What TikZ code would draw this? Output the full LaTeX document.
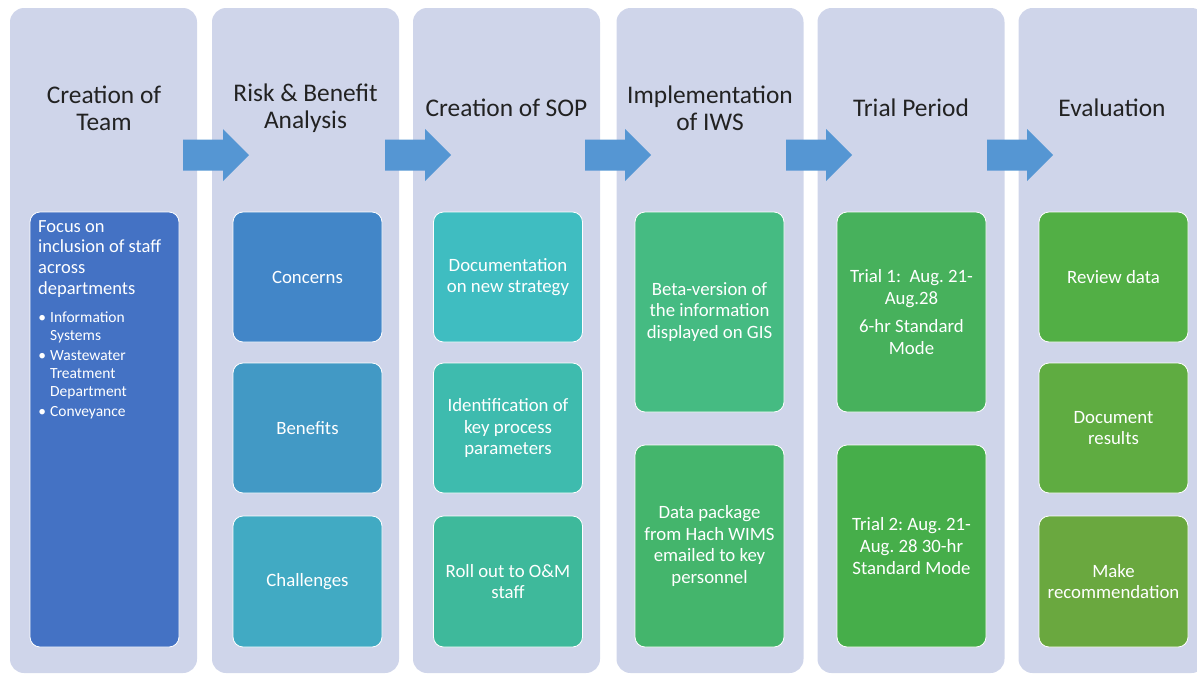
\documentclass[tikz,border=0pt]{standalone}
\usepackage{fontspec}
\setmainfont{Carlito}
\frenchspacing
\definecolor{colbg}{HTML}{CFD5EA}
\definecolor{arrowc}{HTML}{5596D3}
\definecolor{hdrc}{HTML}{222222}
\definecolor{cA}{HTML}{4472C4}
\definecolor{cBa}{HTML}{4286C8}
\definecolor{cBb}{HTML}{4299C5}
\definecolor{cBc}{HTML}{41AAC3}
\definecolor{cCa}{HTML}{3FBDC1}
\definecolor{cCb}{HTML}{3EBBAE}
\definecolor{cCc}{HTML}{3EB99B}
\definecolor{cDa}{HTML}{45BB82}
\definecolor{cDb}{HTML}{44B56C}
\definecolor{cEa}{HTML}{47B15C}
\definecolor{cEb}{HTML}{46AE4A}
\definecolor{cFa}{HTML}{52AF45}
\definecolor{cFb}{HTML}{5FAC41}
\definecolor{cFc}{HTML}{6AA83F}
\newcommand\myitem[1]{{\leftskip=12pt\noindent\llap{\textbullet\hspace{4pt}}#1\par}}
\begin{document}
\frenchspacing
\begin{tikzpicture}[x=1pt,y=-1pt,
  colbox/.style={fill=colbg, rounded corners=14pt, minimum width=187pt, minimum height=665pt, inner sep=0pt},
  inbox/.style={draw=white, line width=0.8pt, rounded corners=10pt, minimum width=149pt, inner sep=0pt,
     text=white, align=flush center, text width=142pt, font=\fontsize{18.8}{21.7}\selectfont},
  hdr/.style={font=\fontsize{25.4}{27}\selectfont, text=hdrc, align=flush center, inner sep=0pt},
  blockarrow/.style={fill=arrowc}]
\useasboundingbox (0,0) rectangle (1197,675);
\clip (0,0) rectangle (1197,675);
% columns
\node[colbox] (colA) at (103.5,340.5) {};
\node[colbox] (colB) at (305.5,340.5) {};
\node[colbox] (colC) at (506.5,340.5) {};
\node[colbox] (colD) at (710,340.5) {};
\node[colbox] (colE) at (911,340.5) {};
\node[colbox] (colF) at (1112,340.5) {};
% headers
\node[hdr] (hA) at (104,108) {Creation of\\Team};
\node[hdr] (hB) at (305.5,108) {Risk \& Benefit\\Analysis};
\node[hdr] (hC) at (506.5,108) {Creation of SOP};
\node[hdr] (hD) at (710,108) {Implementation\\of IWS};
\node[hdr] (hE) at (911,108) {Trial Period};
\node[hdr] (hF) at (1112,108) {Evaluation};
% arrows
\foreach \x in {183,385,585,786,987}{
  \fill[blockarrow] (\x,139.5) -- (\x+40,139.5) -- (\x+40,129) -- (\x+66,155) -- (\x+40,181) -- (\x+40,170.5) -- (\x,170.5) -- cycle;
}
% column 1
\node[inbox, fill=cA, minimum height=435pt] (bA) at (104.5,429.5) {};
\node[anchor=north west, inner sep=0pt, text width=142pt, align=flush left, text=white,
      font=\fontsize{18.5}{20.7}\selectfont] (tA) at (38,220)
  {Focus on\\inclusion of staff\\across\\departments\par\vspace{10pt}
   {\fontsize{15.5}{18}\selectfont
   \myitem{Information\\Systems}\vspace{2pt}
   \myitem{Wastewater\\Treatment\\Department}\vspace{2pt}
   \myitem{Conveyance}}};
% column 2
\node[inbox, fill=cBa, minimum height=130pt] (bBa) at (307.5,277) {Concerns};
\node[inbox, fill=cBb, minimum height=130pt] (bBb) at (307.5,428) {Benefits};
\node[inbox, fill=cBc, minimum height=131pt] (bBc) at (307.5,581.5) {Challenges};
% column 3
\node[inbox, fill=cCa, minimum height=130pt] (bCa) at (508,277) {Documentation\\on new strategy};
\node[inbox, fill=cCb, minimum height=130pt] (bCb) at (508,428) {Identification of\\key process\\parameters};
\node[inbox, fill=cCc, minimum height=131pt] (bCc) at (508,581.5) {Roll out to O\&M\\staff};
% column 4
\node[inbox, fill=cDa, minimum height=200pt] (bDa) at (709.5,312) {Beta-version of\\the information\\displayed on GIS};
\node[inbox, fill=cDb, minimum height=202pt] (bDb) at (709.5,546) {Data package\\from Hach WIMS\\emailed to key\\personnel};
% column 5
\node[inbox, fill=cEa, minimum height=200pt] (bEa) at (911.5,312) {Trial 1:\ \ Aug. 21-\\Aug.28\par\vspace{7pt}6-hr Standard\\Mode};
\node[inbox, fill=cEb, minimum height=202pt] (bEb) at (911.5,546) {Trial 2: Aug. 21-\\Aug. 28 30-hr\\Standard Mode};
% column 6
\node[inbox, fill=cFa, minimum height=130pt] (bFa) at (1113.5,277) {Review data};
\node[inbox, fill=cFb, minimum height=130pt] (bFb) at (1113.5,428) {Document\\results};
\node[inbox, fill=cFc, minimum height=131pt] (bFc) at (1113.5,581.5) {Make\\recommendation};
\end{tikzpicture}
\end{document}
